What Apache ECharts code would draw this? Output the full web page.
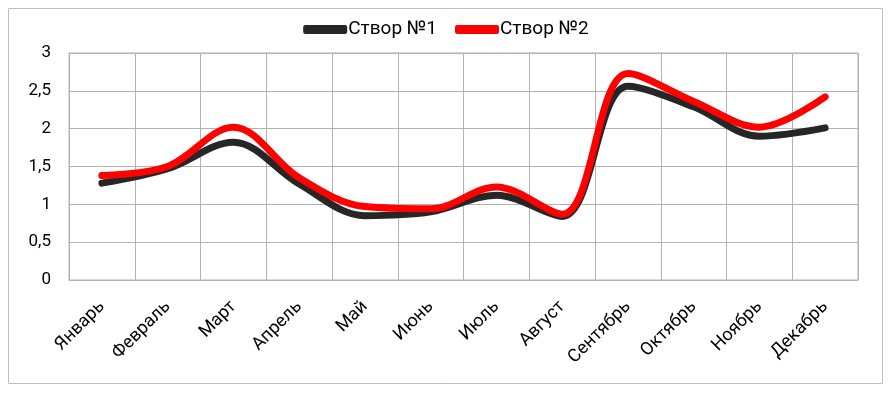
<!DOCTYPE html>
<html><head><meta charset="utf-8">
<script src="https://cdn.jsdelivr.net/npm/echarts@6/dist/echarts.min.js"></script>
<style>html,body{margin:0;padding:0;background:#fff}#c{width:892px;height:394px}</style>
</head><body><div id="c"></div>
<script>
const categories = ['Январь','Февраль','Март','Апрель','Май','Июнь','Июль','Август','Сентябрь','Октябрь','Ноябрь','Декабрь'];
const seriesNames = ['Створ №1','Створ №2'];
const stvor1 = [1.28, 1.47, 1.82, 1.27, 0.85, 0.9, 1.12, 0.84, 2.56, 2.29, 1.9, 2.01];
const stvor2 = [1.38, 1.5, 2.02, 1.35, 0.97, 0.94, 1.23, 0.87, 2.73, 2.36, 2.02, 2.42];
const yTicks = [0, 0.5, 1, 1.5, 2, 2.5, 3];

const font = 'Roboto, "Noto Sans", sans-serif';
const chart = echarts.init(document.getElementById('c'), null, {renderer:'canvas'});
chart.setOption({
  animation: false,
  backgroundColor: '#fff',
  graphic: [{type:'rect', shape:{x:8.5, y:8.5, width:874, height:375}, style:{fill:'none', stroke:'#bfbfbf', lineWidth:1}, silent:true, z:-1}],
  legend: {
    top: 15, left: 'center', itemGap: 18, itemWidth: 44, itemHeight: 9, icon: 'roundRect',
    textStyle: {fontFamily: font, fontSize: 19, color: '#000', padding:[0,0,0,-4]},
    data: seriesNames
  },
  grid: {left: 69, right: 34, top: 53, bottom: 114, show: true, borderColor: '#b3b3b3', borderWidth: 1},
  xAxis: {
    type: 'category', data: categories, boundaryGap: true,
    axisLine: {show: true, lineStyle: {color: '#b3b3b3', width: 1}},
    axisTick: {show: false},
    splitLine: {show: true, interval: 0, lineStyle: {color: '#b3b3b3', width: 1}},
    axisLabel: {interval: 0, rotate: 45, margin: 24, fontFamily: font, fontSize: 18, color: '#000'}
  },
  yAxis: {
    type: 'value', min: 0, max: 3, interval: 0.5,
    axisLine: {show: false}, axisTick: {show: false},
    splitLine: {show: true, lineStyle: {color: '#b3b3b3', width: 1}},
    axisLabel: {margin: 18, fontFamily: font, fontSize: 17, color: '#000',
      formatter: v => yTicks.includes(v) ? String(v).replace('.', ',') : ''}
  },
  series: [
    {name: seriesNames[0], type: 'line', data: stvor1, smooth: 0.35, symbol: 'none',
     lineStyle: {color: '#262626', width: 7, cap: 'round', join: 'round'}, itemStyle: {color: '#262626'}},
    {name: seriesNames[1], type: 'line', data: stvor2, smooth: 0.35, symbol: 'none',
     lineStyle: {color: '#ff0000', width: 7, cap: 'round', join: 'round'}, itemStyle: {color: '#ff0000'}}
  ]
});
</script></body></html>
